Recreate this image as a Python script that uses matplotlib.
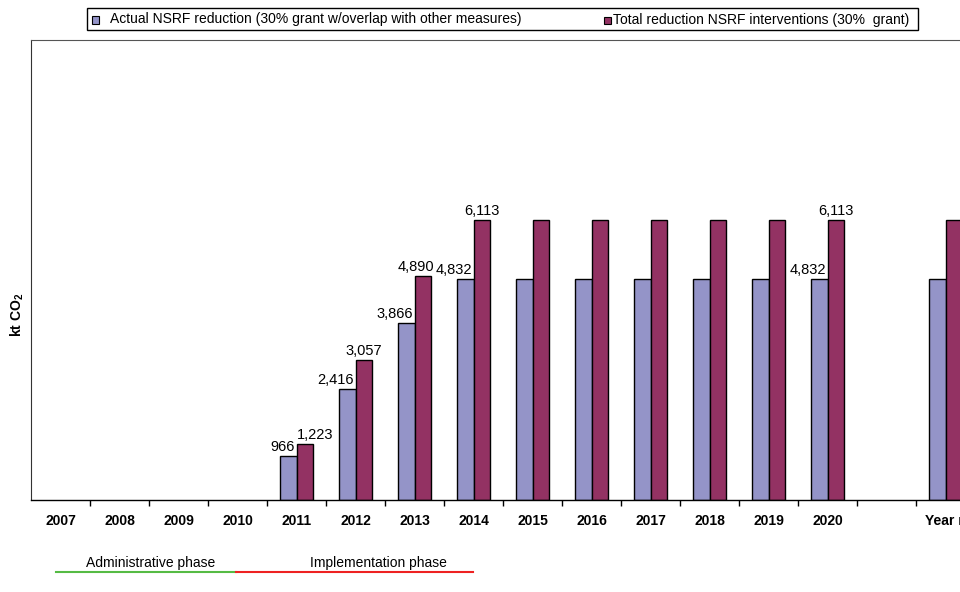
import numpy as np
import matplotlib
matplotlib.use("Agg")
import matplotlib.pyplot as plt
from matplotlib.patches import Rectangle
from matplotlib.lines import Line2D

plt.rcParams['font.family'] = ['Liberation Sans', 'DejaVu Sans']
plt.rcParams['mathtext.fontset'] = 'custom'
plt.rcParams['mathtext.rm'] = 'Liberation Sans'
plt.rcParams['mathtext.bf'] = 'Liberation Sans:bold'

# categories on the x axis (one blank slot before the final year)
years = ['2007', '2008', '2009', '2010', '2011', '2012', '2013', '2014',
         '2015', '2016', '2017', '2018', '2019', '2020', '', 'Year n']

# kt CO2 per year, nan where no bar is drawn
actual = [np.nan, np.nan, np.nan, np.nan, 966, 2416, 3866, 4832,
          4832, 4832, 4832, 4832, 4832, 4832, np.nan, 4832]
total = [np.nan, np.nan, np.nan, np.nan, 1223, 3057, 4890, 6113,
         6113, 6113, 6113, 6113, 6113, 6113, np.nan, 6113]

# which bars carry a value label
labelled_actual = ['2011', '2012', '2013', '2014', '2020']
labelled_total = ['2011', '2012', '2013', '2014', '2020']

series_names = ['Actual NSRF reduction (30% grant w/overlap with other measures)',
                'Total reduction NSRF interventions (30%  grant)']
phase_names = ['Administrative phase', 'Implementation phase']

c_actual = '#9494C8'
c_total = '#933263'

W, H = 960, 592
fig = plt.figure(figsize=(W / 100, H / 100), dpi=100)


def fx(x):
    return x / W


def fy(y):
    return 1 - y / H


# axes run past the right edge of the figure
ax = fig.add_axes([fx(31), fy(500), fx(975) - fx(31), fy(40) - fy(500)])

x = np.arange(len(years))
bw = 0.285
ax.bar(x - bw / 2, actual, bw, color=c_actual, edgecolor='black', linewidth=1.0)
ax.bar(x + bw / 2, total, bw, color=c_total, edgecolor='black', linewidth=1.0)

ax.set_xlim(-0.5, len(years) - 0.5)
ax.set_ylim(0, 10040)

for i, yr in enumerate(years):
    if yr in labelled_actual:
        ax.annotate(f'{actual[i]:,.0f}', (x[i], actual[i]), xytext=(-1, 1.5),
                    textcoords='offset points', ha='right', va='bottom', fontsize=10.5)
    if yr in labelled_total:
        dx = 0
        if yr == '2011':
            dx = 7
        elif yr == '2013':
            dx = -5
        ax.annotate(f'{total[i]:,.0f}', (x[i] + bw / 2, total[i]), xytext=(dx, 1.5),
                    textcoords='offset points', ha='center', va='bottom', fontsize=10.5)

# year labels in the middle, tick marks on the category boundaries
ax.set_xticks(x)
ax.set_xticklabels(years, fontweight='bold', fontsize=10)
ax.tick_params(axis='x', which='major', length=0, pad=10)
ax.set_xticks(np.arange(len(years)) + 0.5, minor=True)
ax.tick_params(axis='x', which='minor', length=4, direction='out', width=1)
ax.set_yticks([])

ax.spines['right'].set_visible(False)
ax.spines['top'].set_color('#555555')
ax.spines['left'].set_color('#333333')
ax.spines['bottom'].set_color('black')
ax.spines['bottom'].set_linewidth(1.0)

fig.text(fx(17), fy(315), r'kt CO$_\mathbf{2}$', rotation=90, ha='center', va='center',
         fontweight='bold', fontsize=10)

# legend box across the top
fig.add_artist(Rectangle((fx(87), fy(30)), fx(918) - fx(87), fy(8) - fy(30),
                         transform=fig.transFigure, facecolor='white',
                         edgecolor='black', linewidth=1.0))
fig.add_artist(Rectangle((fx(92), fy(23.5)), fx(7), fy(0) - fy(7),
                         transform=fig.transFigure, facecolor=c_actual,
                         edgecolor='black', linewidth=0.8))
fig.text(fx(110), fy(18.5), series_names[0], ha='left', va='center', fontsize=10)
fig.add_artist(Rectangle((fx(604), fy(24)), fx(7), fy(0) - fy(7),
                         transform=fig.transFigure, facecolor=c_total,
                         edgecolor='black', linewidth=0.8))
fig.text(fx(613), fy(20), series_names[1], ha='left', va='center', fontsize=10)

# project phases under the axis
fig.add_artist(Line2D([fx(56), fx(236)], [fy(572), fy(572)], transform=fig.transFigure,
                      color='#55BB44', linewidth=1.5))
fig.add_artist(Line2D([fx(236), fx(473)], [fy(572), fy(572)], transform=fig.transFigure,
                      color='#EE2222', linewidth=1.5))
fig.text(fx(151), fy(563), phase_names[0], ha='center', va='center', fontsize=10)
fig.text(fx(378), fy(563), phase_names[1], ha='center', va='center', fontsize=10)

fig.savefig('out.png', dpi=100)
